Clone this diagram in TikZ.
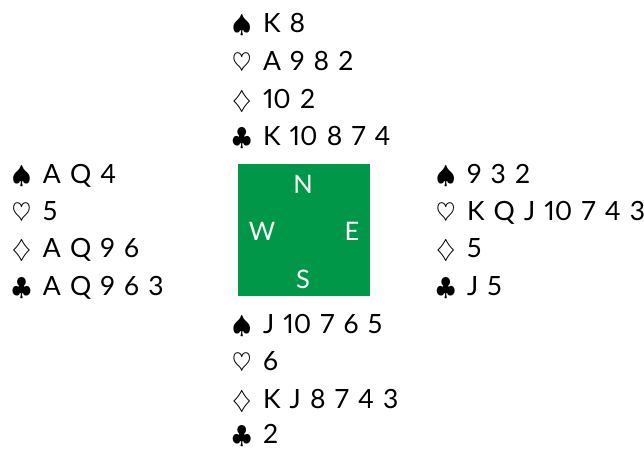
\documentclass[tikz,border=0pt]{standalone}
\usepackage{fontspec}
\setmainfont{Lato}[WordSpace=1.35,Numbers=Proportional]
\definecolor{tablegreen}{RGB}{0,152,72}
\newcommand{\suitbox}[1]{\makebox[31pt][l]{$#1$}}
\tikzset{
  cardline/.style={anchor=base west, inner sep=0pt, outer sep=0pt, font=\fontsize{26.5}{30}\selectfont, text=black},
  seat/.style={anchor=base, inner sep=0pt, font=\fontsize{25.5}{30}\selectfont, text=white},
  table/.style={fill=tablegreen, draw=none}
}
\begin{document}
\begin{tikzpicture}[x=1pt,y=-1pt]
\useasboundingbox (0,0) rectangle (644,448);
% table
\fill[table] (238,164) rectangle (370,296);
\node[seat] (N) at (303,193) {N};
\node[seat] (W) at (262,240) {W};
\node[seat] (E) at (352,240) {E};
\node[seat] (S) at (303,288) {S};
% North
\node[cardline] (n1) at (232,32) {\suitbox{\spadesuit}K 8};
\node[cardline] (n2) at (232,70) {\suitbox{\heartsuit}A 9 8 2};
\node[cardline] (n3) at (232,108) {\suitbox{\diamondsuit}10 2};
\node[cardline] (n4) at (232,145) {\suitbox{\clubsuit}K 10 8 7 4};
% West
\node[cardline] (w1) at (12,183) {\suitbox{\spadesuit}A Q 4};
\node[cardline] (w2) at (12,220) {\suitbox{\heartsuit}5};
\node[cardline] (w3) at (12,257) {\suitbox{\diamondsuit}A Q 9 6};
\node[cardline] (w4) at (12,295) {\suitbox{\clubsuit}A Q 9 6 3};
% East
\node[cardline] (e1) at (436,183) {\suitbox{\spadesuit}9 3 2};
\node[cardline] (e2) at (436,220) {\suitbox{\heartsuit}K Q J 10 7 4 3};
\node[cardline] (e3) at (436,257) {\suitbox{\diamondsuit}5};
\node[cardline] (e4) at (436,295) {\suitbox{\clubsuit}J 5};
% South
\node[cardline] (s1) at (232,333) {\suitbox{\spadesuit}J 10 7 6 5};
\node[cardline] (s2) at (232,370) {\suitbox{\heartsuit}6};
\node[cardline] (s3) at (232,408) {\suitbox{\diamondsuit}K J 8 7 4 3};
\node[cardline] (s4) at (232,443) {\suitbox{\clubsuit}2};
\end{tikzpicture}
\end{document}
